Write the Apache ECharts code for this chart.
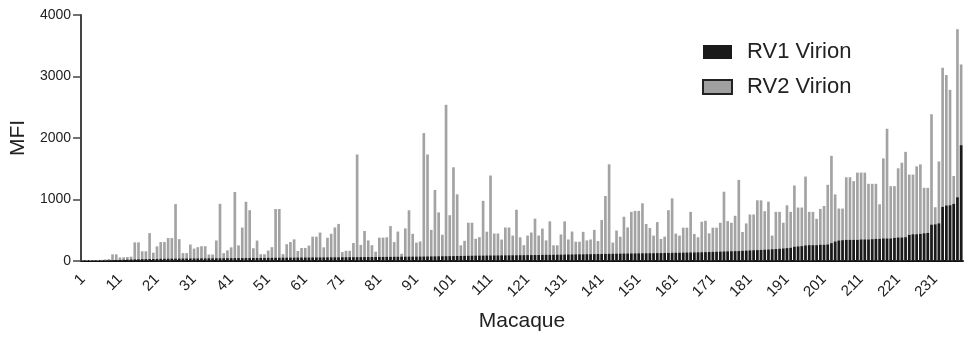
<!DOCTYPE html>
<html>
<head>
<meta charset="utf-8">
<title>MFI per macaque</title>
<script src="https://cdn.jsdelivr.net/npm/echarts@6/dist/echarts.min.js"></script>
<style>
    html, body { margin: 0; padding: 0; background: #fff; }
    #chart { width: 965px; height: 337px; }
</style>
</head>
<body>
<div id="chart"></div>
<script>
    // RV1 Virion (black, macaques sorted by it)
    var rv1 = [
        2, 3, 4, 5, 6, 8, 10, 12, 14, 16,
        18, 20, 22, 24, 26, 28, 30, 31, 32, 33,
        34, 35, 36, 37, 38, 38, 39, 39, 40, 40,
        41, 41, 42, 42, 43, 43, 44, 44, 45, 45,
        46, 46, 47, 47, 48, 48, 49, 49, 50, 50,
        51, 51, 52, 52, 53, 53, 54, 54, 55, 55,
        56, 56, 57, 57, 58, 58, 59, 59, 60, 60,
        61, 61, 62, 62, 63, 63, 64, 64, 65, 65,
        66, 66, 67, 67, 68, 68, 69, 69, 70, 70,
        70, 71, 72, 73, 74, 75, 76, 77, 78, 79,
        80, 81, 82, 83, 84, 85, 86, 87, 87, 88,
        89, 89, 90, 91, 91, 92, 93, 93, 94, 95,
        96, 96, 97, 98, 99, 100, 100, 101, 102, 103,
        104, 105, 106, 107, 108, 109, 110, 111, 112, 113,
        114, 115, 116, 117, 118, 119, 120, 121, 122, 123,
        124, 125, 125, 126, 127, 128, 129, 130, 131, 132,
        133, 134, 135, 137, 138, 139, 141, 142, 144, 146,
        148, 150, 152, 154, 156, 158, 160, 162, 165, 168,
        171, 174, 177, 180, 183, 186, 190, 194, 198, 203,
        209, 214, 231, 236, 241, 252, 257, 257, 257, 263,
        263, 268, 290, 316, 332, 338, 343, 343, 343, 343,
        349, 349, 349, 354, 359, 359, 365, 365, 365, 375,
        381, 381, 386, 424, 434, 434, 440, 450, 456, 590,
        595, 611, 879, 901, 906, 928, 1035, 1882
    ];

    // RV2 Virion (grey)
    var rv2 = [
        12, 14, 15, 15, 16, 18, 25, 32, 108, 108,
        58, 60, 65, 70, 303, 303, 158, 158, 453, 135,
        238, 308, 308, 373, 373, 925, 355, 128, 128, 268,
        202, 225, 240, 240, 105, 105, 334, 930, 128, 173,
        222, 1122, 254, 544, 963, 826, 208, 332, 110, 110,
        170, 225, 846, 846, 112, 273, 308, 352, 163, 212,
        212, 251, 396, 396, 463, 222, 378, 443, 546, 603,
        145, 166, 166, 292, 1732, 262, 488, 335, 257, 152,
        380, 380, 386, 568, 308, 479, 118, 530, 825, 442,
        298, 318, 2080, 1732, 506, 1155, 790, 427, 2540, 745,
        1524, 1084, 255, 328, 623, 623, 362, 388, 978, 476,
        1390, 447, 447, 349, 545, 545, 414, 833, 385, 257,
        414, 463, 688, 414, 527, 335, 645, 255, 255, 431,
        645, 350, 479, 313, 313, 474, 335, 350, 506, 324,
        666, 1057, 1572, 300, 495, 395, 720, 546, 799, 815,
        815, 938, 601, 536, 413, 633, 359, 397, 826, 1019,
        445, 413, 542, 542, 799, 440, 386, 638, 654, 450,
        542, 542, 622, 1126, 649, 622, 735, 1319, 472, 611,
        756, 756, 987, 987, 810, 965, 413, 799, 799, 622,
        906, 799, 1228, 869, 869, 1373, 799, 799, 686, 847,
        895, 1239, 1710, 1083, 853, 853, 1362, 1362, 1298, 1437,
        1437, 1437, 1255, 1255, 1255, 922, 1668, 2150, 1217, 1217,
        1507, 1598, 1775, 1405, 1405, 1539, 1571, 1190, 1190, 2386,
        874, 1619, 3142, 3024, 2783, 1383, 3769, 3196
    ];

    // macaque numbers 1..238
    var macaques = rv1.map(function(v, i) { return String(i + 1); });

    var font = 'Liberation Sans, Arial, Helvetica, sans-serif';

    var option = {
        animation: false,
        backgroundColor: '#fff',
        textStyle: { fontFamily: font },
        grid: { left: 80, right: 2, top: 15, bottom: 72 },
        legend: {
            orient: 'vertical',
            left: 697,
            top: 36,
            icon: 'rect',
            itemWidth: 29,
            itemHeight: 14,
            itemGap: 13,
            textStyle: {
                fontFamily: font,
                fontSize: 22,
                color: '#222',
                lineHeight: 22,
                padding: [0, 0, 0, 10]
            },
            data: [
                { name: 'RV1 Virion', itemStyle: { color: '#1a1a1a' } },
                { name: 'RV2 Virion', itemStyle: { color: '#a0a0a0', borderColor: '#222', borderWidth: 2 } }
            ]
        },
        xAxis: {
            type: 'category',
            data: macaques,
            boundaryGap: true,
            name: 'Macaque',
            nameLocation: 'middle',
            nameGap: 50,
            nameTextStyle: { fontFamily: font, fontSize: 21, color: '#222' },
            axisLine: { lineStyle: { color: '#111', width: 2 } },
            axisTick: {
                interval: 9,
                alignWithLabel: true,
                length: 8,
                lineStyle: { color: '#111', width: 1.5 }
            },
            axisLabel: {
                interval: 9,
                rotate: 45,
                margin: 16,
                fontFamily: font,
                fontSize: 15,
                color: '#222'
            },
            splitLine: { show: false }
        },
        yAxis: {
            type: 'value',
            min: 0,
            max: 4000,
            interval: 1000,
            name: 'MFI',
            nameLocation: 'middle',
            nameGap: 40,
            nameTextStyle: { fontFamily: font, fontSize: 21, color: '#222' },
            axisLine: { show: true, lineStyle: { color: '#444', width: 2 } },
            axisTick: { show: true, length: 8, lineStyle: { color: '#444', width: 1.5 } },
            axisLabel: {
                margin: 10,
                fontFamily: font,
                fontSize: 14,
                color: '#222',
                formatter: function(v) { return String(v); }
            },
            splitLine: { show: false }
        },
        series: [{
            name: 'RV2 Virion',
            type: 'bar',
            data: rv2,
            barWidth: '72%',
            barGap: '-100%',
            itemStyle: { color: '#a3a3a3' }
        }, {
            name: 'RV1 Virion',
            type: 'bar',
            data: rv1,
            barWidth: '72%',
            barGap: '-100%',
            itemStyle: { color: '#1a1a1a' }
        }]
    };

    var myChart = echarts.init(document.getElementById('chart'));
    myChart.setOption(option);
</script>
</body>
</html>
